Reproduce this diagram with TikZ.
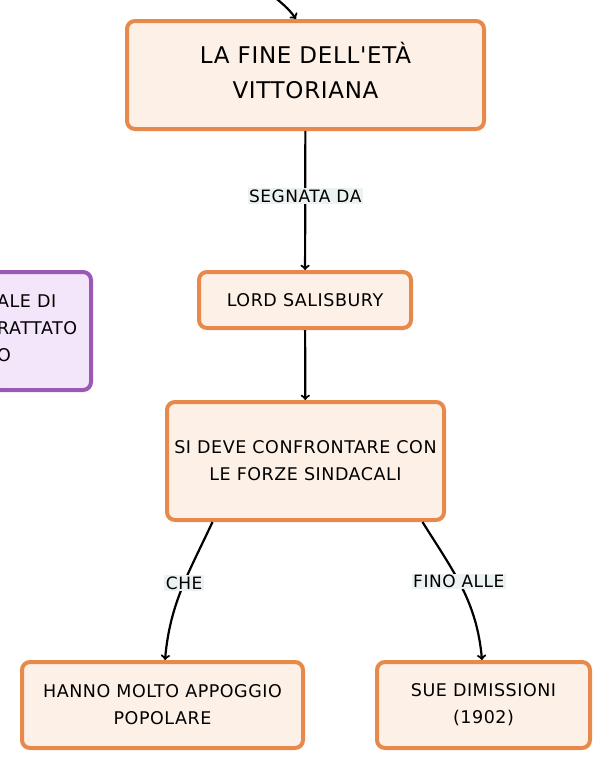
\documentclass[tikz,border=0pt]{standalone}
\usepackage{fontspec}
\setmainfont{DejaVu Sans}[LetterSpace=3,Ligatures=TeXOff]
\definecolor{boxorange}{RGB}{230,137,75}
\definecolor{boxfill}{RGB}{253,240,230}
\definecolor{boxpurple}{RGB}{155,89,182}
\definecolor{purplefill}{RGB}{243,229,250}
\definecolor{labelgray}{RGB}{236,241,241}

\begin{document}
\begin{tikzpicture}
    [%%%%%%%%%%%%%%%%%%%%%%%%%%%%%%
        x=1pt,y=1pt,
        box/.style={rectangle,draw=boxorange,fill=boxfill,line width=4pt,rounded corners=8pt,align=center,inner sep=0pt,font=\fontsize{17.5}{27}\selectfont},
        purplebox/.style={rectangle,draw=boxpurple,fill=purplefill,line width=4pt,rounded corners=8pt,inner sep=0pt},
        edgelabel/.style={fill=labelgray,inner sep=1.5pt,font=\fontsize{17}{19}\selectfont},
        link/.style={->,line width=2.2pt,black},
    ]%%%%%%%%%%%%%%%%%%%%%%%%%%%%%%

\useasboundingbox (0,0) rectangle (612,-771);
\clip (0,0) rectangle (612,-771);

\node[box, minimum width=357pt, minimum height=108pt, text depth=9pt, font=\fontsize{23}{35}\selectfont] (fine) at (305.5,-75) {LA FINE DELL'ETÀ\\VITTORIANA};
\node[box, minimum width=212pt, minimum height=56pt] (salisbury) at (305,-300) {LORD SALISBURY};
\node[box, minimum width=277pt, minimum height=118pt] (sindacati) at (305.5,-461) {SI DEVE CONFRONTARE CON\\LE FORZE SINDACALI};
\node[box, minimum width=281pt, minimum height=86pt] (appoggio) at (162.5,-705) {HANNO MOLTO APPOGGIO\\POPOLARE};
\node[box, minimum width=213pt, minimum height=86pt] (dimissioni) at (483.5,-705) {SUE DIMISSIONI\\(1902)};

\node[purplebox, minimum width=99pt, minimum height=118pt] (trattato) at (41.5,-331) {};
\node[anchor=west, align=left, font=\fontsize{17.5}{27}\selectfont, inner sep=0pt] (trattatotext) at (-3,-328) {ALE DI\\RATTATO\\O};

\coordinate (incoming) at (272,5);
\draw[link] (incoming) to[out=-40,in=125] ([xshift=-9.5pt]fine.north);

\draw[link] (fine) -- (salisbury) node[edgelabel, pos=0.47] (segnata) {SEGNATA DA};
\draw[link] (salisbury) -- (sindacati);

\draw[link] ([xshift=-93pt]sindacati.south) to[out=-115,in=85] node[edgelabel, pos=0.45] (che) {CHE} ([xshift=2.5pt]appoggio.north);
\draw[link] ([xshift=117pt]sindacati.south) to[out=-58,in=95] node[edgelabel, pos=0.45] (finoalle) {FINO ALLE} ([xshift=-1.5pt]dimissioni.north);
\end{tikzpicture}
\end{document}
